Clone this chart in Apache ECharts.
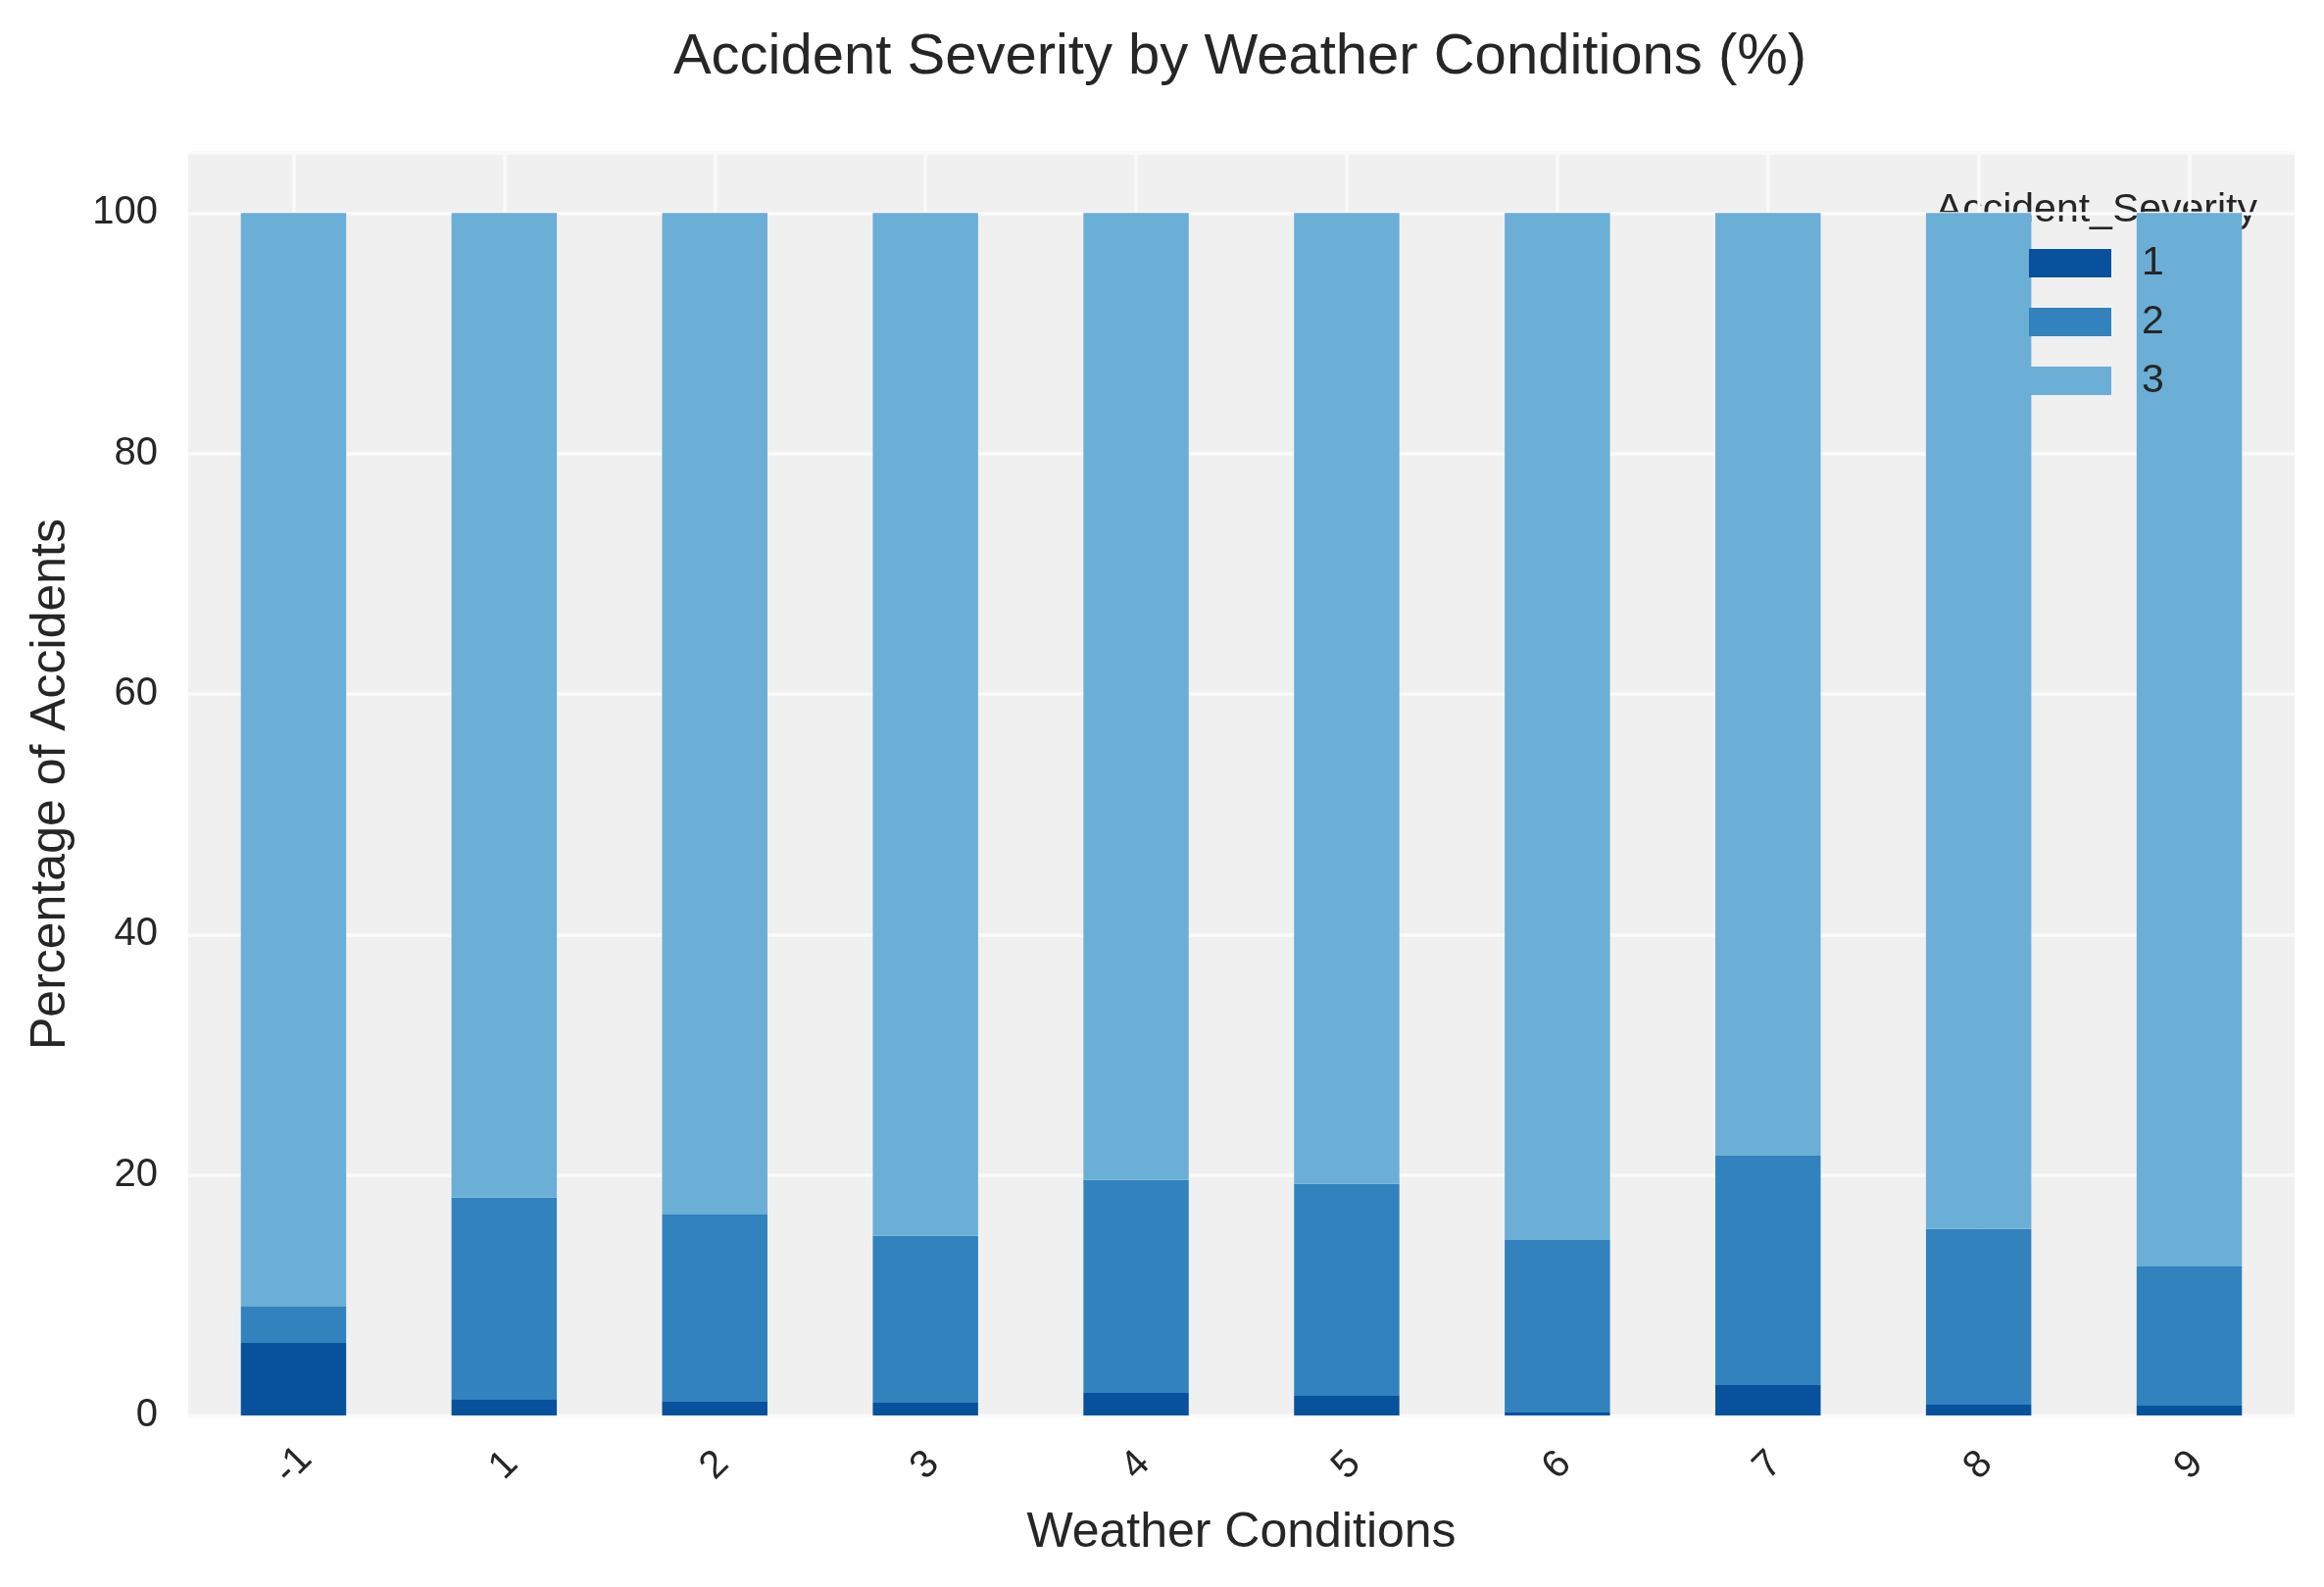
<!DOCTYPE html>
<html>
<head>
<meta charset="utf-8">
<script src="https://cdn.jsdelivr.net/npm/echarts@6/dist/echarts.min.js"></script>
<style>
html,body{margin:0;padding:0;background:#fff;}
#chart{width:2371px;height:1619px;}
</style>
</head>
<body>
<div id="chart"></div>
<script>
const categories = ['-1', '1', '2', '3', '4', '5', '6', '7', '8', '9'];
const severity1 = [6.04, 1.31, 1.14, 1.06, 1.88, 1.63, 0.24, 2.53, 0.90, 0.82];
const severity2 = [3.01, 16.80, 15.58, 13.87, 17.70, 17.62, 14.36, 19.08, 14.60, 11.58];
const severity3 = [90.95, 81.89, 83.28, 85.07, 80.42, 80.75, 85.40, 78.39, 84.50, 87.60];
const seriesNames = ['1', '2', '3'];
const colors = ['#08519c', '#3182bd', '#6baed6'];

const FONT = 'Liberation Sans, Arial, sans-serif';
const TXT = '#262626';

const chart = echarts.init(document.getElementById('chart'), null, {renderer: 'canvas'});
const data = [severity1, severity2, severity3];

chart.setOption({
  backgroundColor: '#ffffff',
  animation: false,
  grid: {
    left: 192, right: 30, top: 156, bottom: 175,
    show: true, backgroundColor: '#f0f0f0', borderWidth: 0
  },
  legend: {
    orient: 'vertical',
    left: 2065,
    top: 243,
    itemWidth: 84,
    itemHeight: 29,
    itemGap: 19,
    icon: 'rect',
    data: seriesNames,
    textStyle: {fontFamily: FONT, fontSize: 41, color: TXT, padding: [0, 0, 0, 26]}
  },
  graphic: [{
    type: 'text',
    x: 1265,
    y: 30,
    style: {
      text: 'Accident Severity by Weather Conditions (%)',
      fontFamily: FONT, fontSize: 58, fill: TXT, align: 'center', verticalAlign: 'top'
    }
  }, {
    type: 'text',
    x: 2303,
    y: 215,
    style: {
      text: 'Accident_Severity', fontFamily: FONT, fontSize: 41, fill: TXT,
      align: 'right', verticalAlign: 'middle'
    }
  }],
  xAxis: {
    type: 'category',
    data: categories,
    name: 'Weather Conditions',
    nameLocation: 'middle',
    nameGap: 95,
    nameTextStyle: {fontFamily: FONT, fontSize: 50, color: TXT},
    axisLine: {show: false},
    axisTick: {show: false, alignWithLabel: true},
    axisLabel: {
      rotate: 45, margin: 51, align: 'center', verticalAlign: 'middle',
      fontFamily: FONT, fontSize: 40, color: TXT
    },
    splitLine: {show: true, alignWithLabel: true, lineStyle: {color: '#fafafa', width: 3.5}}
  },
  yAxis: {
    type: 'value',
    min: 0, max: 105, interval: 20,
    name: 'Percentage of Accidents',
    nameLocation: 'middle',
    nameGap: 115,
    nameTextStyle: {fontFamily: FONT, fontSize: 50, color: TXT},
    axisLine: {show: false},
    axisTick: {show: false},
    axisLabel: {
      margin: 31, fontFamily: FONT, fontSize: 40, color: TXT,
      formatter: v => (v % 20 === 0 ? String(v) : '')
    },
    splitLine: {show: true, lineStyle: {color: '#fafafa', width: 3.5}}
  },
  series: seriesNames.map((n, i) => ({
    name: n,
    type: 'bar',
    stack: 'total',
    barWidth: '50%',
    data: data[i],
    itemStyle: {color: colors[i]}
  }))
});
</script>
</body>
</html>
